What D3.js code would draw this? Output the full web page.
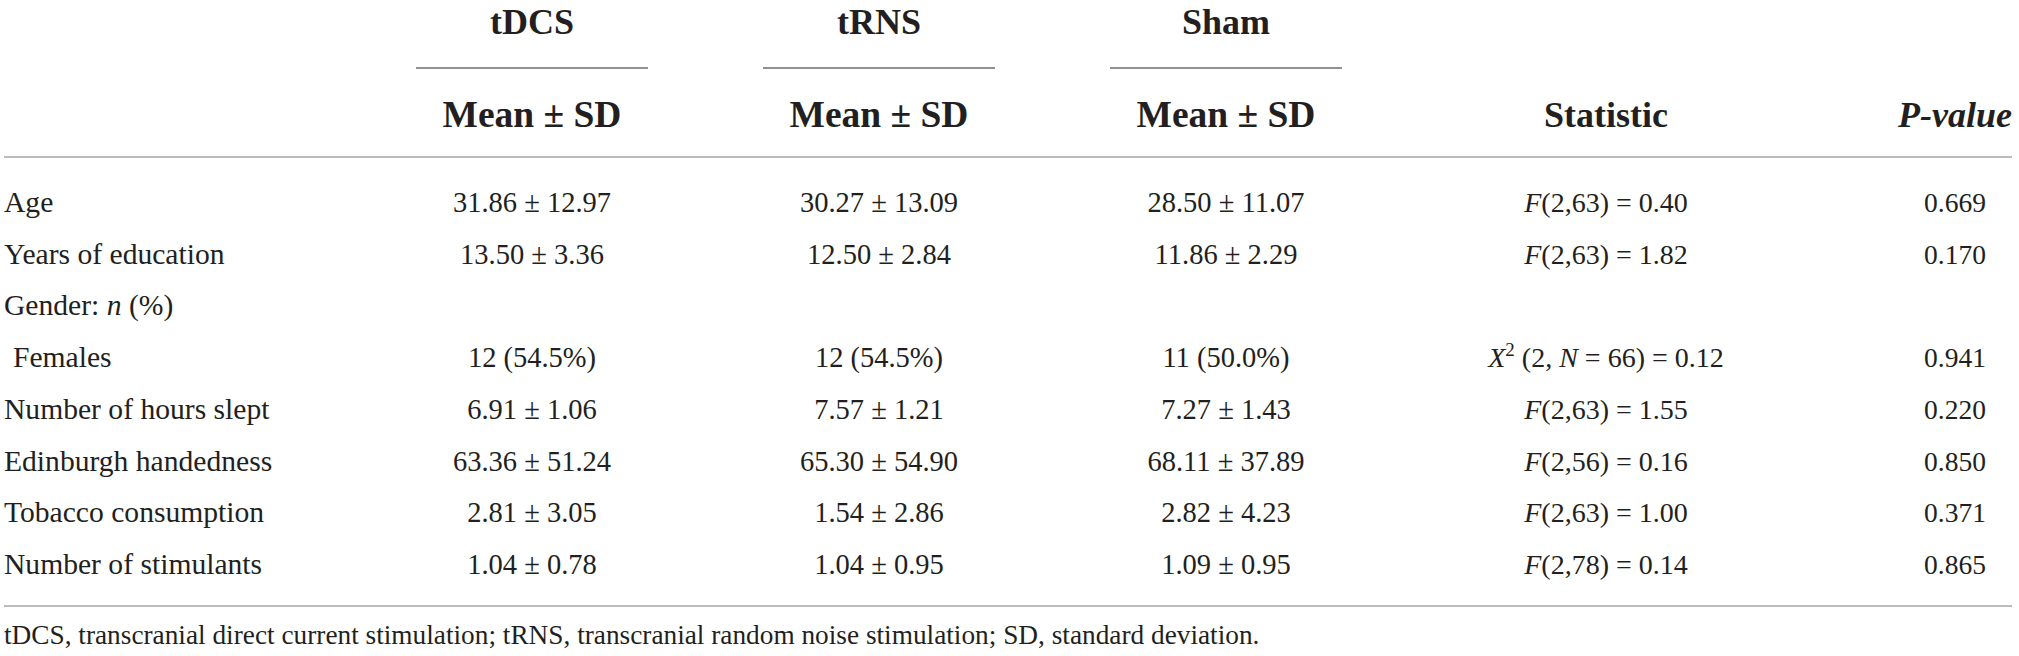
<!DOCTYPE html>
<html>
<head>
<meta charset="utf-8">
<script src="https://cdn.jsdelivr.net/npm/d3@7"></script>
<style>
  html, body { margin: 0; padding: 0; background: #fff; }
  svg { display: block; }
  text { font-family: "Liberation Serif", "Times New Roman", serif; fill: #231f20; }
</style>
</head>
<body>
<svg id="chart" width="2019" height="656"></svg>
<script>
// ---- data ----
const groups = ["tDCS", "tRNS", "Sham"];
const variables = ["Age", "Years of education", "Gender", "Females", "Number of hours slept",
                   "Edinburgh handedness", "Tobacco consumption", "Number of stimulants"];
const tdcsMean = [31.86, 13.50, null, 12, 6.91, 63.36, 2.81, 1.04];
const tdcsSD   = [12.97, 3.36, null, 54.5, 1.06, 51.24, 3.05, 0.78];
const trnsMean = [30.27, 12.50, null, 12, 7.57, 65.30, 1.54, 1.04];
const trnsSD   = [13.09, 2.84, null, 54.5, 1.21, 54.90, 2.86, 0.95];
const shamMean = [28.50, 11.86, null, 11, 7.27, 68.11, 2.82, 1.09];
const shamSD   = [11.07, 2.29, null, 50.0, 1.43, 37.89, 4.23, 0.95];
const statType = ["F", "F", null, "X2", "F", "F", "F", "F"];
const statDf1  = [2, 2, null, 2, 2, 2, 2, 2];
const statDf2  = [63, 63, null, 66, 63, 56, 63, 78];
const statVal  = [0.40, 1.82, null, 0.12, 1.55, 0.16, 1.00, 0.14];
const pValues  = [0.669, 0.170, null, 0.941, 0.220, 0.850, 0.371, 0.865];
const footnote = "tDCS, transcranial direct current stimulation; tRNS, transcranial random noise stimulation; SD, standard deviation.";

// ---- layout ----
const svg = d3.select("#chart");
const columns = ["g0", "g1", "g2", "stat", "p"];
const xCol = d3.scaleOrdinal().domain(columns).range([532, 879, 1226, 1606, 1955]);
const yRow = d3.scalePoint().domain(d3.range(variables.length)).range([212, 574]);
const f2 = d3.format(".2f"), f1 = d3.format(".1f"), f3 = d3.format(".3f");

const headSize = 36, subSize = 37.5, labelSize = 29.6, cellSize = 28.5, statSize = 28, pSize = 27.5, footSize = 27.3;
const lineLight = "#bcbcbc", lineDark = "#6d6d6d";

// group headers
const groupCols = ["g0", "g1", "g2"];
svg.selectAll("text.group").data(groups).join("text")
  .attr("class", "group")
  .attr("x", (d, i) => xCol(groupCols[i])).attr("y", 34)
  .attr("text-anchor", "middle").attr("font-size", headSize).attr("font-weight", "bold")
  .text(d => d);

svg.selectAll("line.gline").data(groups).join("line")
  .attr("class", "gline")
  .attr("x1", (d, i) => xCol(groupCols[i]) - 116).attr("x2", (d, i) => xCol(groupCols[i]) + 116)
  .attr("y1", 68).attr("y2", 68)
  .attr("stroke", lineDark).attr("stroke-width", 1.5);

svg.selectAll("text.sub").data(groups).join("text")
  .attr("class", "sub")
  .attr("x", (d, i) => xCol(groupCols[i])).attr("y", 127)
  .attr("text-anchor", "middle").attr("font-size", subSize).attr("font-weight", "bold")
  .text("Mean ± SD");

svg.append("text").attr("x", xCol("stat")).attr("y", 127)
  .attr("text-anchor", "middle").attr("font-size", headSize).attr("font-weight", "bold")
  .text("Statistic");
svg.append("text").attr("x", xCol("p")).attr("y", 127)
  .attr("text-anchor", "middle").attr("font-size", headSize).attr("font-weight", "bold")
  .attr("font-style", "italic").text("P-value");

// horizontal rules
[157, 606].forEach(y => {
  svg.append("line").attr("x1", 4).attr("x2", 2012).attr("y1", y).attr("y2", y)
    .attr("stroke", lineLight).attr("stroke-width", 2);
});

// row labels
const labels = svg.selectAll("text.label").data(variables).join("text")
  .attr("class", "label")
  .attr("x", d => d === "Females" ? 13 : 4)
  .attr("y", (d, i) => yRow(i))
  .attr("font-size", labelSize);
labels.each(function(d) {
  const t = d3.select(this);
  if (d === "Gender") {
    t.append("tspan").text("Gender: ");
    t.append("tspan").attr("font-style", "italic").text("n");
    t.append("tspan").text(" (%)");
  } else {
    t.text(d);
  }
});

// group cells
const groupData = [[tdcsMean, tdcsSD], [trnsMean, trnsSD], [shamMean, shamSD]];
groupData.forEach(([means, sds], gi) => {
  svg.selectAll("text.cell" + gi).data(variables).join("text")
    .attr("class", "cell" + gi)
    .attr("x", xCol(groupCols[gi]))
    .attr("y", (d, i) => yRow(i))
    .attr("text-anchor", "middle").attr("font-size", cellSize)
    .text((d, i) => {
      if (means[i] == null) return "";
      if (d === "Females") return `${means[i]} (${f1(sds[i])}%)`;
      return `${f2(means[i])} ± ${f2(sds[i])}`;
    });
});

// statistic cells
const statText = svg.selectAll("text.stat").data(variables).join("text")
  .attr("class", "stat")
  .attr("x", xCol("stat")).attr("y", (d, i) => yRow(i))
  .attr("text-anchor", "middle").attr("font-size", statSize);
statText.each(function(d, i) {
  const t = d3.select(this);
  if (statType[i] === "F") {
    t.append("tspan").attr("font-style", "italic").text("F");
    t.append("tspan").text(`(${statDf1[i]},${statDf2[i]}) = ${f2(statVal[i])}`);
  } else if (statType[i] === "X2") {
    t.append("tspan").attr("font-style", "italic").text("X");
    t.append("tspan").attr("font-size", 19).attr("dy", -11).text("2");
    t.append("tspan").attr("dy", 11).text(` (${statDf1[i]}, `);
    t.append("tspan").attr("font-style", "italic").text("N");
    t.append("tspan").text(` = ${statDf2[i]}) = ${f2(statVal[i])}`);
  }
});

// p-values
svg.selectAll("text.pv").data(pValues).join("text")
  .attr("class", "pv")
  .attr("x", xCol("p")).attr("y", (d, i) => yRow(i))
  .attr("text-anchor", "middle").attr("font-size", pSize)
  .text(d => d == null ? "" : f3(d));

// footnote
svg.append("text").attr("x", 4).attr("y", 644).attr("font-size", footSize).text(footnote);
</script>
</body>
</html>
